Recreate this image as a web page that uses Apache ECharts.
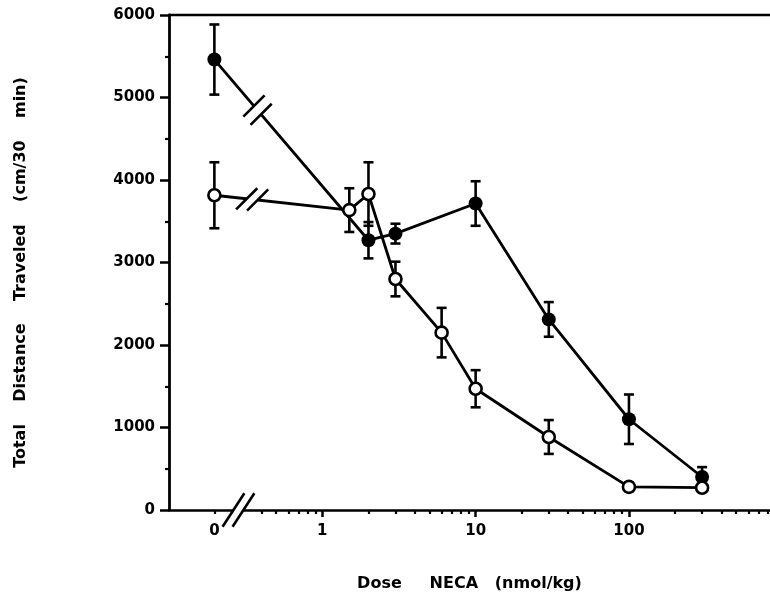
<!DOCTYPE html>
<html>
<head>
<meta charset="utf-8">
<script src="https://cdn.jsdelivr.net/npm/echarts@6/dist/echarts.min.js"></script>
<style>
    html, body { margin: 0; padding: 0; background: #fff; }
    #main { width: 770px; height: 599px; }
</style>
</head>
<body>
<div id="main"></div>
<script>
    // dose in nmol/kg, 0 = vehicle (drawn left of the axis break)
    var filledDose = [0, 2, 3, 10, 30, 100, 300];
    var filledMean = [5460, 3270, 3350, 3715, 2310, 1100, 400];
    var filledErr = [425, 220, 120, 270, 210, 300, 120];

    var openDose = [0, 1.5, 2, 3, 6, 10, 30, 100, 300];
    var openMean = [3815, 3635, 3830, 2800, 2150, 1470, 885, 280, 270];
    var openErr = [400, 265, 385, 210, 300, 225, 205, 50, 0];

    var tickDoses = [0, 1, 10, 100];
    var tickLabels = ['0', '1', '10', '100'];
    var minorDoses = [0.4, 0.5, 0.6, 0.7, 0.8, 0.9,
        2, 3, 4, 5, 6, 7, 8, 9,
        20, 30, 40, 50, 60, 70, 80, 90,
        200, 300, 400, 500, 600, 700, 800];
    var yTicks = [0, 1000, 2000, 3000, 4000, 5000, 6000];

    // log10 axis, the 0 dose sits at a fixed spot before the break
    var zeroPos = -0.704;
    var breakPos = -0.547;
    var xMin = -1, xMax = 2.92;
    function xPos(d) { return d === 0 ? zeroPos : Math.log10(d); }

    var font = 'DejaVu Sans';
    var black = '#000';

    function pts(doses, vals) {
        return doses.map(function (d, i) { return [xPos(d), vals[i]]; });
    }
    function bars(doses, vals, errs) {
        return doses.map(function (d, i) { return [xPos(d), vals[i] - errs[i], vals[i] + errs[i]]; });
    }

    function errorBarItem(params, api) {
        var x = api.value(0), lo = api.value(1), hi = api.value(2);
        if (hi - lo < 1) return { type: 'group', children: [] };
        var top = api.coord([x, hi]), bot = api.coord([x, lo]);
        var w = 5, st = { stroke: black, lineWidth: 2.6 };
        return {
            type: 'group', children: [
                { type: 'line', shape: { x1: top[0], y1: top[1], x2: bot[0], y2: bot[1] }, style: st },
                { type: 'line', shape: { x1: top[0] - w, y1: top[1], x2: top[0] + w, y2: top[1] }, style: st },
                { type: 'line', shape: { x1: bot[0] - w, y1: bot[1], x2: bot[0] + w, y2: bot[1] }, style: st }
            ]
        };
    }

    // two slashes with a white gap between them
    function slashPair(c, d, ang, len, gap, gapW) {
        var s = [Math.cos(ang), -Math.sin(ang)];
        var children = [{
            type: 'line',
            shape: { x1: c[0] - d[0] * gap / 2, y1: c[1] - d[1] * gap / 2, x2: c[0] + d[0] * gap / 2, y2: c[1] + d[1] * gap / 2 },
            style: { stroke: '#fff', lineWidth: gapW }
        }];
        [-1, 1].forEach(function (k) {
            var cx = c[0] + k * d[0] * gap / 2, cy = c[1] + k * d[1] * gap / 2;
            children.push({
                type: 'line',
                shape: { x1: cx - s[0] * len / 2, y1: cy - s[1] * len / 2, x2: cx + s[0] * len / 2, y2: cy + s[1] * len / 2 },
                style: { stroke: black, lineWidth: 2.6 }
            });
        });
        return { type: 'group', children: children };
    }

    function lineBreakItem(params, api) {
        var p0 = api.coord([api.value(0), api.value(1)]);
        var p1 = api.coord([api.value(2), api.value(3)]);
        var t = 0.28;
        var c = [p0[0] + (p1[0] - p0[0]) * t, p0[1] + (p1[1] - p0[1]) * t];
        var dx = p1[0] - p0[0], dy = p1[1] - p0[1], n = Math.sqrt(dx * dx + dy * dy);
        return slashPair(c, [dx / n, dy / n], Math.PI / 4, 30, 11, 7);
    }

    function axisBreakItem(params, api) {
        var c = api.coord([api.value(0), api.value(1)]);
        return slashPair(c, [1, 0], 57 * Math.PI / 180, 40, 10, 6);
    }

    var chart = echarts.init(document.getElementById('main'));
    var option = {
        animation: false,
        backgroundColor: '#fff',
        grid: { left: 169, right: 0, top: 15, bottom: 89 },
        xAxis: [
            {
                type: 'value', min: xMin, max: xMax, position: 'bottom',
                axisLine: { lineStyle: { color: black, width: 2.6 } },
                axisTick: { customValues: tickDoses.slice(1).map(xPos), length: 7, lineStyle: { color: black, width: 2.5 } },
                axisLabel: {
                    customValues: tickDoses.map(xPos),
                    formatter: function (v) {
                        for (var i = 0; i < tickDoses.length; i++) {
                            if (Math.abs(xPos(tickDoses[i]) - v) < 1e-6) return tickLabels[i];
                        }
                        return '';
                    },
                    margin: 14, color: black, fontFamily: font, fontWeight: 'bold', fontSize: 15
                },
                splitLine: { show: false },
                name: 'Dose     NECA   (nmol/kg)',
                nameLocation: 'middle', nameGap: 66,
                nameTextStyle: { color: black, fontFamily: font, fontWeight: 'bold', fontSize: 16 }
            },
            {
                type: 'value', min: xMin, max: xMax, position: 'bottom',
                axisLine: { show: false },
                axisTick: { customValues: [zeroPos].concat(minorDoses.map(xPos)), length: 4, lineStyle: { color: black, width: 2.2 } },
                axisLabel: { show: false },
                splitLine: { show: false }
            },
            {
                type: 'value', min: xMin, max: xMax, position: 'top',
                axisLine: { lineStyle: { color: black, width: 2.4 } },
                axisTick: { show: false },
                axisLabel: { show: false },
                splitLine: { show: false }
            }
        ],
        yAxis: {
            type: 'value', min: 0, max: 6000, interval: 1000,
            axisLine: { show: true, onZero: false, lineStyle: { color: black, width: 2.8 } },
            axisTick: { length: 9, lineStyle: { color: black, width: 2.5 } },
            minorTick: { show: true, splitNumber: 2, length: 4, lineStyle: { color: black, width: 2.2 } },
            axisLabel: {
                margin: 14, color: black, fontFamily: font, fontWeight: 'bold', fontSize: 15,
                formatter: function (v) { return yTicks.indexOf(v) >= 0 ? String(v) : ''; }
            },
            splitLine: { show: false },
            name: 'Total    Distance    Traveled    (cm/30    min)',
            nameLocation: 'middle', nameGap: 140,
            nameTextStyle: { color: black, fontFamily: font, fontWeight: 'bold', fontSize: 16, padding: [0, 20, 0, 0] }
        },
        series: [
            {
                type: 'custom', name: 'filled err', renderItem: errorBarItem, z: 1,
                data: bars(filledDose, filledMean, filledErr)
            },
            {
                type: 'line', name: 'filled', data: pts(filledDose, filledMean), z: 2,
                symbol: 'circle', symbolSize: 14,
                lineStyle: { color: black, width: 2.8 },
                itemStyle: { color: black, borderColor: black, borderWidth: 0 }
            },
            {
                type: 'custom', name: 'open err', renderItem: errorBarItem, z: 3,
                data: bars(openDose, openMean, openErr)
            },
            {
                type: 'line', name: 'open', data: pts(openDose, openMean), z: 4,
                symbol: 'circle', symbolSize: 12,
                lineStyle: { color: black, width: 2.8 },
                itemStyle: { color: '#fff', borderColor: black, borderWidth: 2.6 }
            },
            {
                type: 'custom', name: 'line breaks', renderItem: lineBreakItem, z: 6,
                data: [
                    [xPos(filledDose[0]), filledMean[0], xPos(filledDose[1]), filledMean[1]],
                    [xPos(openDose[0]), openMean[0], xPos(openDose[1]), openMean[1]]
                ]
            },
            {
                type: 'custom', name: 'axis break', renderItem: axisBreakItem, z: 6, clip: false,
                data: [[breakPos, 0]]
            }
        ]
    };
    chart.setOption(option);
</script>
</body>
</html>
